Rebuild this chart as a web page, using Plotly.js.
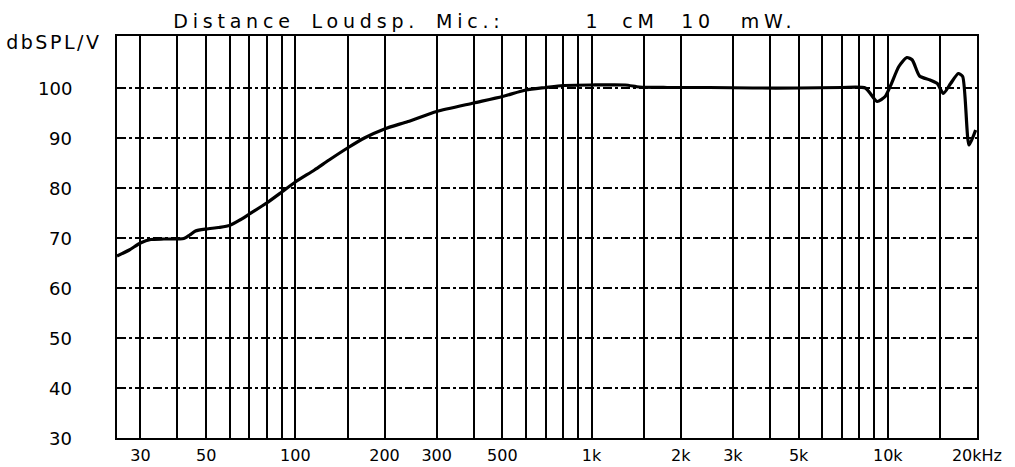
<!DOCTYPE html>
<html>
<head>
<meta charset="utf-8">
<script src="https://cdn.plot.ly/plotly-3.0.1.min.js"></script>
<style>
  html, body { margin: 0; padding: 0; background: #fff; }
  #plot { width: 1015px; height: 467px; }
</style>
</head>
<body>
<div id="plot"></div>
<script>
// Frequency response
const freqHz = [25, 27.5, 30, 32.5, 36, 42, 44, 46, 50, 55, 60, 65, 70, 80, 90, 100, 116, 130, 150, 171, 200, 240, 300, 400, 500, 600, 700, 800, 1000, 1300, 1450, 1800, 2500, 3500, 5000, 7000, 8400, 9200, 9800, 10240, 10900, 11600, 12100, 12800, 13900, 14700, 15400, 16300, 17300, 17900, 18800, 19800];
const splDb  = [66.4, 67.6, 69.0, 69.7, 69.8, 69.9, 70.6, 71.4, 71.8, 72.1, 72.5, 73.6, 74.8, 77.0, 79.2, 81.2, 83.6, 85.6, 88.0, 90.0, 91.8, 93.3, 95.3, 97.0, 98.3, 99.6, 100.1, 100.5, 100.6, 100.6, 100.2, 100.1, 100.1, 100.0, 100.0, 100.1, 100.0, 97.3, 98.3, 100.6, 104.3, 106.1, 105.6, 102.4, 101.6, 100.9, 98.9, 100.9, 102.9, 102.3, 88.6, 91.6];

// Vertical grid (frequency) lines and their labels
const xGridVals = [30, 40, 50, 60, 70, 80, 90, 100, 150, 200, 300, 400, 500, 600, 700, 800, 900, 1000, 1500, 2000, 3000, 4000, 5000, 6000, 7000, 8000, 9000, 10000, 15000, 20000];
const xGridText = ['30', '', '50', '', '', '', '', '100', '', '200', '300', '', '500', '', '', '', '', '1k', '', '2k', '3k', '', '5k', '', '', '', '', '10k', '', '20kHz'];

// Level axis
const yTickVals = [30, 40, 50, 60, 70, 80, 90, 100];
const yTickText = ['30', '40', '50', '60', '70', '80', '90', '100'];

const titleParts = ['Distance Loudsp. Mic.:', '1', 'cM', '10', 'mW.'];
const yUnit = 'dbSPL/V';

const font = 'DejaVu Sans, Verdana, sans-serif';

const trace = {
  x: freqHz,
  y: splDb,
  type: 'scatter',
  mode: 'lines',
  line: { color: '#000', width: 3.2, shape: 'spline', smoothing: 0.6 },
  hoverinfo: 'x+y'
};

// title piece centres in paper fraction
const titleX = [0.2585, 0.5547, 0.6093, 0.6756, 0.7570];
const annotations = titleParts.map((t, i) => ({
  text: t, xref: 'paper', yref: 'paper', x: titleX[i], y: 1.037,
  xanchor: 'center', yanchor: 'middle', showarrow: false,
  font: { family: font, size: 19, color: '#000' }
}));
annotations.push({
  text: yUnit, xref: 'paper', yref: 'paper', x: -0.0733, y: 0.985,
  xanchor: 'center', yanchor: 'middle', showarrow: false,
  font: { family: font, size: 19, color: '#000' }
});
// level labels placed on the y scale
yTickVals.forEach((v, i) => annotations.push({
  text: yTickText[i], xref: 'paper', yref: 'y', x: -0.05, y: v,
  xanchor: 'right', yanchor: 'middle', showarrow: false,
  font: { family: font, size: 18, color: '#000' }
}));

const layout = {
  width: 1015, height: 467,
  margin: { l: 117, r: 38, t: 36, b: 29, pad: 0 },
  paper_bgcolor: '#fff', plot_bgcolor: '#fff',
  showlegend: false,
  xaxis: {
    type: 'log',
    range: [Math.log10(25), Math.log10(20010)],
    tickmode: 'array', tickvals: xGridVals, ticktext: xGridText,
    showgrid: true, gridcolor: '#000', gridwidth: 2,
    showline: true, linecolor: '#000', linewidth: 2, mirror: true,
    ticks: '', ticklabelstandoff: 2,
    tickfont: { family: font, size: 16, color: '#000' },
    zeroline: false, fixedrange: true
  },
  yaxis: {
    range: [30, 110.4],
    tickmode: 'array', tickvals: yTickVals, ticktext: yTickText,
    showticklabels: false,
    showgrid: true, gridcolor: '#000', gridwidth: 1.5, griddash: 'dashdot',
    showline: true, linecolor: '#000', linewidth: 2, mirror: true,
    ticks: '',
    zeroline: false, fixedrange: true
  },
  annotations: annotations
};

Plotly.newPlot('plot', [trace], layout, { staticPlot: true, displayModeBar: false }).then(() => {
  // wide letter spacing for the typewriter-style title pieces and unit
  document.querySelectorAll('#plot .annotation').forEach(g => {
    const idx = +g.getAttribute('data-index');
    const t = g.querySelector('text');
    if (!t) return;
    if (idx < titleParts.length) t.style.letterSpacing = '4.8px';
    if (idx === 0) t.style.wordSpacing = '6px';
    if (idx === titleParts.length) t.style.letterSpacing = '2.5px';
  });
});
</script>
</body>
</html>
